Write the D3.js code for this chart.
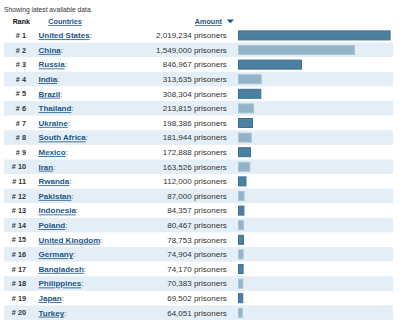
<!DOCTYPE html>
<html><head><meta charset="utf-8">
<script src="https://cdn.jsdelivr.net/npm/d3@7"></script>
<style>
html,body{margin:0;padding:0;background:#fff;}
svg{display:block;font-family:Helvetica,Arial,"Liberation Sans",sans-serif;}
</style></head>
<body><svg id="c" width="400" height="322"></svg>
<script>
const ranks = ["# 1","# 2","# 3","# 4","# 5","# 6","# 7","# 8","# 9","# 10","# 11","# 12","# 13","# 14","# 15","# 16","# 17","# 18","# 19","# 20"];
const countries = ["United States","China","Russia","India","Brazil","Thailand","Ukraine","South Africa","Mexico","Iran","Rwanda","Pakistan","Indonesia","Poland","United Kingdom","Germany","Bangladesh","Philippines","Japan","Turkey"];
const prisoners = [2019234,1549000,846967,313635,308304,213815,198386,181944,172888,163526,112000,87000,84357,80467,78753,74904,74170,70383,69502,64051];
const headers = ["Rank","Countries","Amount"];
const subtitle = "Showing latest available data.";

const svg = d3.select("#c");
const linkColor = "#1b5688";
const textColor = "#333";

const y = d3.scaleBand().domain(d3.range(countries.length)).range([28.1, 28.1 + 14.6*countries.length]).padding(0);
const x = d3.scaleLinear().domain([0, d3.max(prisoners)]).range([238, 390.6]);

svg.append("text").attr("x",4).attr("y",12.3).attr("font-size",6.7).attr("fill",textColor).text(subtitle);

// header
svg.append("text").attr("x",12.7).attr("y",24.3).attr("font-size",7).attr("font-weight","bold").attr("fill","#111").text(headers[0]);
svg.append("text").attr("x",48.3).attr("y",24.3).attr("font-size",7.2).attr("font-weight","bold").attr("fill",linkColor).style("text-decoration","underline").text(headers[1]);
svg.append("text").attr("x",222).attr("y",24.3).attr("font-size",7.2).attr("font-weight","bold").attr("fill",linkColor).attr("text-anchor","end").style("text-decoration","underline").text(headers[2]);
svg.append("path").attr("d","M226.7,19.5L234,19.5L230.35,23.3Z").attr("fill",linkColor);

const rows = svg.selectAll("g.row").data(countries).join("g").attr("class","row");

rows.append("rect")
  .attr("x",4).attr("width",389)
  .attr("y",(d,i)=>y(i)).attr("height",y.bandwidth())
  .attr("fill",(d,i)=> i%2 ? "#e4eef6" : "#fff");

rows.append("text").attr("x",26).attr("y",(d,i)=>y(i)+y.bandwidth()/2).attr("dy","0.36em")
  .attr("text-anchor","end").attr("font-size",7.3).attr("font-weight","bold").attr("fill",textColor)
  .text((d,i)=>ranks[i]);

const ct = rows.append("text").attr("x",38.5).attr("y",(d,i)=>y(i)+y.bandwidth()/2).attr("dy","0.36em").attr("font-size",8);
ct.append("tspan").attr("font-weight","bold").attr("fill",linkColor).style("text-decoration","underline").text(d=>d);
ct.append("tspan").attr("fill","#555").text(":");

rows.append("text").attr("x",226.8).attr("y",(d,i)=>y(i)+y.bandwidth()/2).attr("dy","0.36em")
  .attr("text-anchor","end").attr("font-size",8).attr("fill",textColor)
  .text((d,i)=>d3.format(",")(prisoners[i]) + " prisoners");

rows.append("rect")
  .attr("x",x(0)+0.5).attr("y",(d,i)=>y(i)+2.8)
  .attr("width",(d,i)=>Math.max(0,x(prisoners[i])-x(0)-1)).attr("height",y.bandwidth()-5.6)
  .attr("fill",(d,i)=> i%2 ? "#94b3c8" : "#4b80a1")
  .attr("stroke",(d,i)=> i%2 ? "#a9c3d5" : "#3d7092").attr("stroke-width",1);
</script></body></html>
